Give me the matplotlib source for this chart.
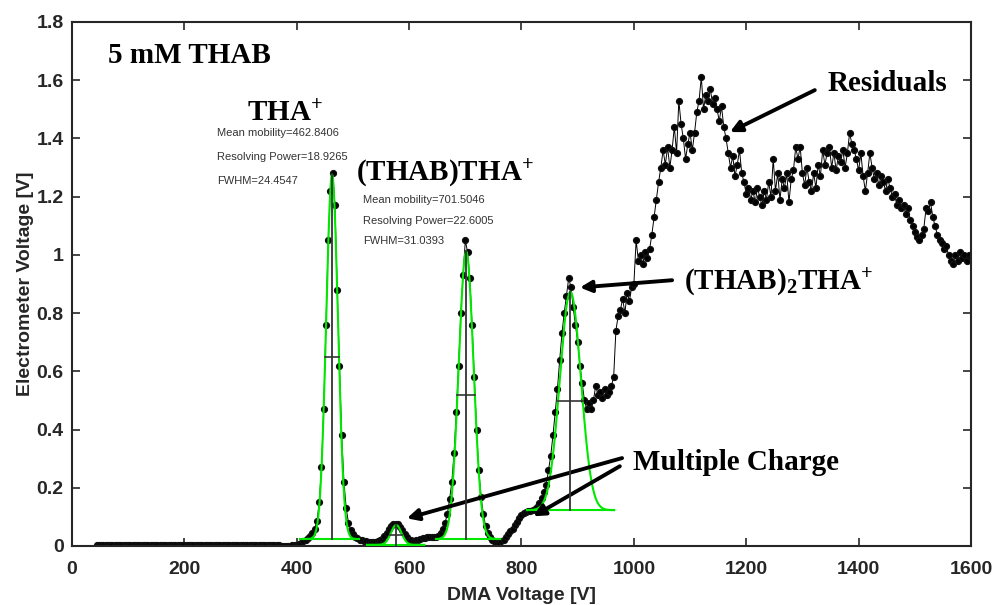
import numpy as np
import matplotlib
matplotlib.use("Agg")
import matplotlib.pyplot as plt

plt.rcParams['mathtext.fontset'] = 'custom'
plt.rcParams['mathtext.rm'] = 'Liberation Serif:bold'
plt.rcParams['mathtext.bf'] = 'Liberation Serif:bold'
plt.rcParams['mathtext.it'] = 'Liberation Serif:bold'

# ---------------- data ----------------
dma_start, dma_stop, dma_step = 44, 1600, 4

baseline_y = [
    0.003, 0.002, 0.003, 0.002, 0.002, 0.003, 0.002, 0.002, 0.003, 0.002,
    0.002, 0.003, 0.002, 0.002, 0.003, 0.002, 0.003, 0.002, 0.002, 0.003,
    0.002, 0.003, 0.003, 0.002, 0.003, 0.002, 0.002, 0.003, 0.003, 0.002,
    0.003, 0.003, 0.002, 0.003, 0.004, 0.003, 0.003, 0.004, 0.003, 0.003,
    0.004, 0.003, 0.003, 0.004, 0.003, 0.004, 0.003, 0.003, 0.004, 0.003,
    0.003, 0.004, 0.003, 0.003, 0.004, 0.003, 0.003, 0.004, 0.003, 0.003,
    0.003, 0.003, 0.004, 0.003, 0.003, 0.003, 0.004, 0.003, 0.003, 0.003,
    0.003, 0.002, 0.003, 0.003, 0.002, 0.003, 0.003, 0.002, 0.003, 0.002,
    0.002, 0.002, 0.001, 0.001, 0.000, 0.000, 0.001, 0.002, 0.004,
]

peaks_y = [
    0.005, 0.008, 0.012, 0.016, 0.022, 0.028, 0.036, 0.046, 0.060, 0.085,
    0.15, 0.27, 0.47, 0.76, 1.05, 1.22, 1.28, 1.17, 0.88, 0.62,
    0.38, 0.22, 0.13, 0.08, 0.055, 0.040, 0.032, 0.026, 0.022, 0.020,
    0.018, 0.016, 0.015, 0.014, 0.014, 0.015, 0.017, 0.020, 0.025, 0.033,
    0.045, 0.057, 0.067, 0.074, 0.077, 0.074, 0.066, 0.054, 0.041, 0.030,
    0.022, 0.019, 0.018, 0.020, 0.022, 0.024, 0.027, 0.029, 0.030, 0.031,
    0.030, 0.030, 0.031, 0.035, 0.045, 0.060, 0.080, 0.11, 0.16, 0.22,
    0.32, 0.46, 0.62, 0.80, 0.93, 1.05, 1.01, 0.92, 0.76, 0.58,
    0.40, 0.26, 0.17, 0.11, 0.07, 0.045, 0.030, 0.020, 0.014, 0.011,
    0.012, 0.016, 0.022, 0.030, 0.040, 0.050, 0.060, 0.072, 0.084, 0.096,
    0.105, 0.112, 0.118, 0.120, 0.121, 0.122, 0.126, 0.135, 0.148, 0.165,
    0.185, 0.21, 0.26, 0.31, 0.38, 0.46, 0.54, 0.64, 0.73, 0.80,
    0.86, 0.92, 0.89, 0.82, 0.76, 0.70, 0.62, 0.56, 0.50, 0.47,
    0.49, 0.47, 0.50, 0.55, 0.52, 0.53, 0.51, 0.54, 0.52, 0.53,
    0.55, 0.58, 0.74, 0.79, 0.81, 0.85, 0.80, 0.87, 0.84, 0.89,
]

residuals_y = [
    0.90, 1.05, 0.98, 1.00, 0.97, 1.01, 0.99, 1.02, 1.07, 1.13,
    1.19, 1.25, 1.30, 1.36, 1.31, 1.37, 1.30, 1.36, 1.44, 1.35,
    1.53, 1.45, 1.40, 1.33, 1.38, 1.42, 1.36, 1.42, 1.49, 1.53,
    1.61, 1.50, 1.55, 1.53, 1.57, 1.52, 1.54, 1.50, 1.46, 1.51,
    1.44, 1.40, 1.35, 1.30, 1.34, 1.27, 1.31, 1.36, 1.28, 1.25,
    1.21, 1.23, 1.19, 1.22, 1.18, 1.23, 1.20, 1.17, 1.22, 1.19,
    1.25, 1.20, 1.33, 1.22, 1.28, 1.19, 1.26, 1.23, 1.28, 1.18,
    1.26, 1.29, 1.37, 1.33, 1.37, 1.28, 1.24, 1.30, 1.25, 1.22,
    1.28, 1.23, 1.31, 1.27, 1.36, 1.31, 1.35, 1.37, 1.30, 1.35,
    1.29, 1.34, 1.32, 1.36, 1.30, 1.35, 1.42, 1.38, 1.36, 1.33,
    1.29, 1.35, 1.27, 1.22, 1.28, 1.35, 1.30, 1.26, 1.28, 1.24,
    1.27, 1.25, 1.22, 1.26, 1.23, 1.20, 1.21, 1.17, 1.19, 1.16,
    1.17, 1.14, 1.16, 1.12, 1.10, 1.08, 1.06, 1.05, 1.07, 1.09,
    1.16, 1.15, 1.18, 1.13, 1.10, 1.07, 1.05, 1.04, 1.02, 1.03,
    1.00, 0.98, 0.97, 1.00, 0.98, 1.01, 0.99, 1.00, 0.98, 1.00,
    0.99,
]

dma_voltage = np.arange(dma_start, dma_stop + 1, dma_step)
electrometer_voltage = np.array(baseline_y + peaks_y + residuals_y)

# Gaussian fit parameters (centre, FWHM, peak height, fit baseline, fit window)
fit_center = [462.8406, 577.0, 701.5046, 887.0]
fit_fwhm = [24.4547, 22.0, 31.0393, 44.0]
fit_peak = [1.276, 0.072, 1.012, 0.873]
fit_base = [0.024, 0.004, 0.024, 0.123]
fit_start = [406, 525, 648, 810]
fit_end = [510, 627, 762, 965]

x_ticks = [0, 200, 400, 600, 800, 1000, 1200, 1400, 1600]
y_ticks = [0, 0.2, 0.4, 0.6, 0.8, 1.0, 1.2, 1.4, 1.6, 1.8]
y_tick_labels = ['0', '0.2', '0.4', '0.6', '0.8', '1', '1.2', '1.4', '1.6', '1.8']

# ---------------- figure ----------------
fig = plt.figure(figsize=(9.95, 6.05), dpi=100)
ax = fig.add_axes([72 / 995, 1 - 546 / 605, (971 - 72) / 995, (546 - 22) / 605])

ax.plot(dma_voltage, electrometer_voltage, '-', color='black', lw=0.7,
        marker='o', markersize=4.2, markerfacecolor='black',
        markeredgecolor='#111111', zorder=2)

green = '#00e800'
for c, w, p, b, s, e in zip(fit_center, fit_fwhm, fit_peak, fit_base, fit_start, fit_end):
    xf = np.linspace(s, e, 400)
    yf = b + (p - b) * np.exp(-4 * np.log(2) * (xf - c) ** 2 / w ** 2)
    ax.plot(xf, yf, color=green, lw=1.5, zorder=3)
    ax.plot([s, e], [b, b], color=green, lw=1.5, zorder=3)
    ax.plot([c, c], [b, p], color='#333333', lw=1.3, zorder=4)
    half = (p + b) / 2
    ax.plot([c - w / 2, c + w / 2], [half, half], color='#333333', lw=1.2, zorder=4)

ax.set_xlim(0, 1600)
ax.set_ylim(0, 1.8)
ax.set_xticks(x_ticks)
ax.set_yticks(y_ticks)
ax.set_yticklabels(y_tick_labels)
ax.tick_params(direction='in', length=6, width=1.2, top=True, right=True,
               colors='#262626', labelsize=14)
ax.tick_params(axis='x', pad=11)
ax.tick_params(axis='y', pad=6)
for lab in ax.get_xticklabels() + ax.get_yticklabels():
    lab.set_fontfamily('Liberation Sans')
    lab.set_fontweight('bold')
for sp in ax.spines.values():
    sp.set_color('#262626')
    sp.set_linewidth(1.5)

ax.set_xlabel('DMA Voltage [V]', fontsize=14, fontweight='bold',
              family='Liberation Sans', color='#262626', labelpad=6)
ax.set_ylabel('Electrometer Voltage [V]', fontsize=14, fontweight='bold',
              family='Liberation Sans', color='#262626', labelpad=2)

serif = dict(family='Liberation Serif', fontweight='bold', fontsize=21, color='black')
small = dict(family='Liberation Sans', fontsize=8, color='#333333')

ax.text(64, 1.686, '5 mM THAB', ha='left', va='center', **serif)
ax.text(311, 1.485, r'THA$^{\mathrm{+}}$', ha='left', va='center', **serif)
ax.text(258, 1.418, 'Mean mobility=462.8406', ha='left', va='center', **small)
ax.text(258, 1.336, 'Resolving Power=18.9265', ha='left', va='center', **small)
ax.text(258, 1.253, 'FWHM=24.4547', ha='left', va='center', **small)

ax.text(505, 1.28, r'(THAB)THA$^{\mathrm{+}}$', ha='left', va='center', **serif)
ax.text(518, 1.187, 'Mean mobility=701.5046', ha='left', va='center', **small)
ax.text(518, 1.118, 'Resolving Power=22.6005', ha='left', va='center', **small)
ax.text(518, 1.047, 'FWHM=31.0393', ha='left', va='center', **small)

ax.text(1089, 0.906, r'(THAB)$_{\mathrm{2}}$THA$^{\mathrm{+}}$', ha='left', va='center', **serif)
ax.text(1345, 1.59, 'Residuals', ha='left', va='center', **serif)
ax.text(999, 0.288, 'Multiple Charge', ha='left', va='center', **serif)

arrow = dict(arrowstyle='-|>', color='black', lw=2.8, mutation_scale=17,
             shrinkA=0, shrinkB=0)
ax.annotate('', xy=(1171, 1.422), xytext=(1322, 1.566), arrowprops=arrow)
ax.annotate('', xy=(904, 0.888), xytext=(1068, 0.913), arrowprops=arrow)
ax.annotate('', xy=(596, 0.095), xytext=(979, 0.302), arrowprops=arrow)
ax.annotate('', xy=(821, 0.102), xytext=(975, 0.274), arrowprops=arrow)

fig.savefig('out.png', dpi=100)
